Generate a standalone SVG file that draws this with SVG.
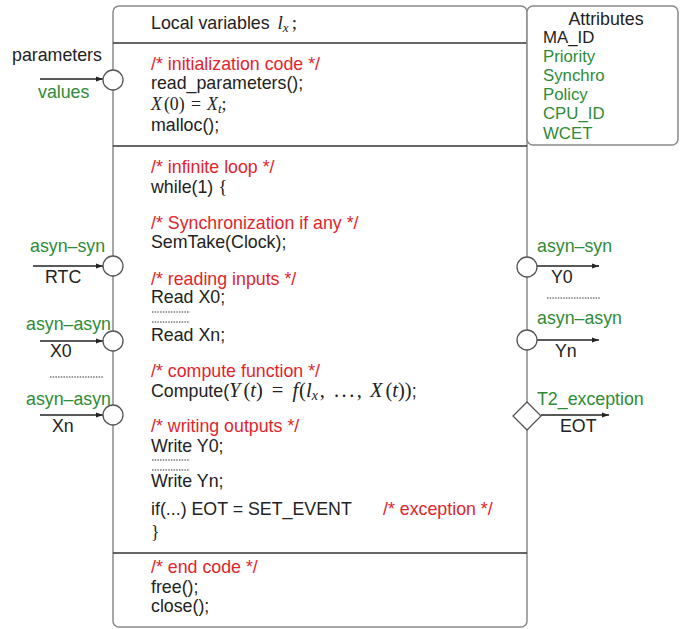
<svg xmlns="http://www.w3.org/2000/svg" width="680" height="629" viewBox="0 0 680 629">
<defs>
<marker id="ah" viewBox="0 0 10 10" refX="10" refY="5" markerWidth="7" markerHeight="7" markerUnits="userSpaceOnUse" orient="auto"><path d="M0,1.5 L10,5 L0,8.5 z" fill="#222"/></marker>
<style>
text{font-family:"Liberation Sans",Arial,sans-serif;font-size:17.8px;fill:#222}
.r{fill:#e3242b}
.g{fill:#2e8b36}
.a{font-size:16.8px}
.m{font-family:"Liberation Serif","Times New Roman",serif;font-style:italic}
.n{font-family:"Liberation Serif","Times New Roman",serif;font-style:normal}
.box{fill:#fff;stroke:#8a8a8a;stroke-width:1.5}
.div{stroke:#333;stroke-width:1.5}
.port{fill:#fff;stroke:#555;stroke-width:1.3}
.ln{stroke:#222;stroke-width:1.3;fill:none}
.dot{stroke:#333;stroke-width:1;stroke-dasharray:1.5 1.2}
</style>
</defs>
<rect width="680" height="629" fill="#fff"/>
<g id="main">
<rect class="box" x="113" y="6" width="414" height="621" rx="6"/>
<line class="div" x1="113" y1="43" x2="527" y2="43"/>
<line class="div" x1="113" y1="146" x2="527" y2="146"/>
<line class="div" x1="113" y1="553" x2="527" y2="553"/>
<text x="151" y="29">Local variables <tspan class="m" font-size="19" dx="3">l</tspan><tspan class="m" font-size="13" dy="3">x</tspan><tspan class="n" font-size="19" dy="-3" dx="3">;</tspan></text>
<text class="r" x="151" y="70">/* initialization code */</text>
<text x="151" y="89">read_parameters();</text>
<text class="m" x="151" y="110" font-size="19">X<tspan class="n" dx="2">(0) </tspan><tspan class="n" dx="2">=</tspan><tspan dx="6">X</tspan><tspan font-size="13" dy="3">t</tspan><tspan class="n" dy="-3">;</tspan></text>
<text x="151" y="131">malloc();</text>
<text class="r" x="151" y="173">/* infinite loop */</text>
<text x="151" y="193">while(1) <tspan class="n" font-size="19">{</tspan></text>
<text class="r" x="151" y="229">/* Synchronization if any */</text>
<text x="151" y="248">SemTake(Clock);</text>
<text class="r" x="151" y="285">/* reading inputs */</text>
<text x="151" y="303">Read X0;</text>
<line class="dot" x1="152" y1="312" x2="190" y2="312"/>
<line class="dot" x1="152" y1="322" x2="190" y2="322"/>
<text x="151" y="341">Read Xn;</text>
<text class="r" x="151" y="377">/* compute function */</text>
<text x="151" y="397">Compute(<tspan class="m" font-size="20.5">Y<tspan class="n" dx="3">(</tspan>t<tspan class="n">)</tspan><tspan class="n" dx="9">=</tspan><tspan dx="9">f</tspan><tspan class="n" dx="1">(</tspan>l<tspan font-size="14" dy="3">x</tspan><tspan class="n" dy="-3" dx="2">,</tspan><tspan class="n" dx="9" letter-spacing="2.5">...</tspan><tspan class="n">,</tspan><tspan dx="8">X</tspan><tspan class="n" dx="3">(</tspan>t<tspan class="n">))</tspan></tspan>;</text>
<text class="r" x="151" y="432">/* writing outputs */</text>
<text x="151" y="452">Write Y0;</text>
<line class="dot" x1="152" y1="460" x2="190" y2="460"/>
<line class="dot" x1="152" y1="470" x2="190" y2="470"/>
<text x="151" y="487">Write Yn;</text>
<text x="151" y="515">if(...) EOT = SET_EVENT</text>
<text class="r" x="383" y="515">/* exception */</text>
<text class="n" x="151" y="538" font-size="19">}</text>
<text class="r" x="151" y="573">/* end code */</text>
<text x="151" y="593">free();</text>
<text x="151" y="612">close();</text>
</g>
<g id="attributes">
<rect class="box" x="527" y="6" width="151" height="139" rx="6"/>
<text x="606" y="25" text-anchor="middle">Attributes</text>
<text class="a" x="543" y="43">MA_ID</text>
<text class="a g" x="543" y="62">Priority</text>
<text class="a g" x="543" y="81">Synchro</text>
<text class="a g" x="543" y="100">Policy</text>
<text class="a g" x="543" y="119">CPU_ID</text>
<text class="a g" x="543" y="139">WCET</text>
</g>
<g id="connectors">
<line class="ln" x1="40" y1="79" x2="103" y2="79" marker-end="url(#ah)"/>
<line class="ln" x1="33" y1="266" x2="103" y2="266" marker-end="url(#ah)"/>
<line class="ln" x1="40" y1="341" x2="103" y2="341" marker-end="url(#ah)"/>
<line class="ln" x1="40" y1="415" x2="103" y2="415" marker-end="url(#ah)"/>
<line class="ln" x1="537" y1="266" x2="599" y2="266" marker-end="url(#ah)"/>
<line class="ln" x1="537" y1="340" x2="599" y2="340" marker-end="url(#ah)"/>
<line class="ln" x1="541" y1="415" x2="609" y2="415" marker-end="url(#ah)"/>
<line class="dot" x1="50" y1="377" x2="104" y2="377"/>
<line class="dot" x1="547" y1="298" x2="601" y2="298"/>
</g>
<g id="port-parameters">
<circle class="port" cx="113" cy="80" r="10"/>
<text x="12" y="61">parameters</text>
<text class="g" x="38" y="98">values</text>
</g>
<g id="port-rtc">
<circle class="port" cx="113" cy="266" r="10"/>
<text class="g" x="30" y="252">asyn–syn</text>
<text x="45" y="283">RTC</text>
</g>
<g id="port-x0">
<circle class="port" cx="113" cy="341" r="10"/>
<text class="g" x="26" y="330">asyn–asyn</text>
<text x="50" y="357">X0</text>
</g>
<g id="port-xn">
<circle class="port" cx="113" cy="415" r="10"/>
<text class="g" x="26" y="405">asyn–asyn</text>
<text x="52" y="432">Xn</text>
</g>
<g id="port-y0">
<circle class="port" cx="527" cy="267" r="10"/>
<text class="g" x="537" y="252">asyn–syn</text>
<text x="551" y="283">Y0</text>
</g>
<g id="port-yn">
<circle class="port" cx="527" cy="340" r="10"/>
<text class="g" x="537" y="324">asyn–asyn</text>
<text x="555" y="357">Yn</text>
</g>
<g id="port-eot">
<path class="port" d="M527,402 L541,416 L527,430 L513,416 z"/>
<text class="g" x="537" y="405">T2_exception</text>
<text x="560" y="432">EOT</text>
</g>
</svg>
